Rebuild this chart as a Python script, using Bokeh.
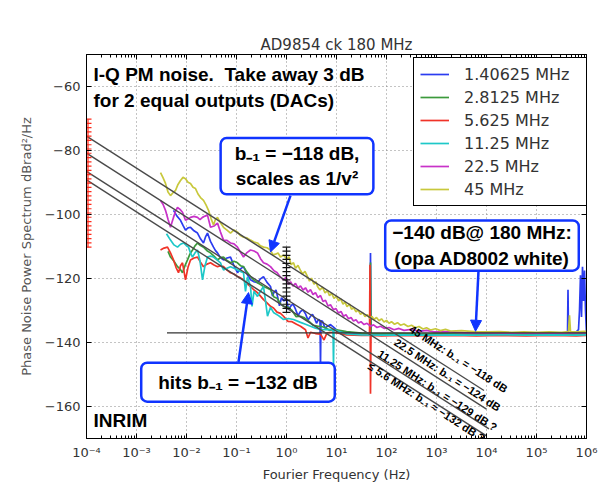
import numpy as np
from bokeh.plotting import figure
from bokeh.models import (LogAxis, LinearAxis, FixedTicker, CustomJSTickFormatter,
                          Label, Arrow, NormalHead, Range1d)
from bokeh.core.properties import value
from bokeh.embed import file_html
from bokeh.resources import INLINE

# ---------------- data ----------------
TITLE = "AD9854 ck 180 MHz"
X_LABEL = "Fourier Frequency (Hz)"
Y_LABEL = "Phase Noise Power Spectrum dBrad²/Hz"

series_names = ["1.40625 MHz", "2.8125 MHz", "5.625 MHz", "11.25 MHz", "22.5 MHz", "45 MHz"]
series_colors = ["#2b3cf0", "#3c9a3c", "#f03328", "#1ec8c8", "#c832c8", "#c8c83c"]

# (log10 f [Hz], dB) pairs
blue_1p40625 = [(-2.26, -98.7), (-2.19, -100.5), (-2.12, -101.8), (-2.07, -103.4), (-2.02, -104.9), (-1.97, -104.2),
                (-1.92, -104.0), (-1.85, -105.1), (-1.78, -105.8), (-1.72, -107.6), (-1.66, -108.9), (-1.62, -107.0),
                (-1.58, -105.8), (-1.52, -108.4), (-1.46, -110.2), (-1.42, -111.3), (-1.38, -112.0), (-1.32, -113.5),
                (-1.26, -114.2), (-1.19, -113.6), (-1.12, -113.3), (-1.05, -116.0), (-0.98, -118.2), (-0.92, -117.0),
                (-0.86, -116.3), (-0.79, -118.6), (-0.72, -120.4), (-0.65, -121.0), (-0.58, -121.3), (-0.52, -120.1),
                (-0.46, -119.4), (-0.39, -121.2), (-0.32, -122.5), (-0.28, -125.5), (-0.25, -124.3), (-0.21, -123.6),
                (-0.18, -125.6), (-0.14, -128.5), (-0.10, -126.0), (-0.05, -127.0), (0.00, -126.4), (0.04, -129.8),
                (0.08, -128.7), (0.13, -127.9), (0.18, -129.6), (0.23, -131.6), (0.28, -130.3), (0.33, -129.8),
                (0.38, -131.0), (0.43, -133.0), (0.48, -131.8), (0.52, -131.2), (0.56, -132.4), (0.60, -134.0),
                (0.64, -132.8), (0.67, -133.1), (0.68, -147.3), (0.69, -133.2), (0.72, -133.4), (0.77, -135.5),
                (0.82, -134.9), (0.88, -134.4), (0.94, -135.2), (1.02, -136.3), (1.10, -136.5), (1.30, -137.0),
                (1.50, -137.2), (1.67, -137.3), (1.68, -112.0), (1.69, -137.3), (1.80, -137.4), (2.00, -137.5),
                (2.30, -137.4), (2.60, -137.6), (3.00, -137.5), (3.50, -137.6), (4.00, -137.5), (4.50, -137.6),
                (5.00, -137.5), (5.40, -137.6), (5.62, -137.5), (5.63, -123.5), (5.64, -137.5), (5.75, -137.4),
                (5.84, -136.0), (5.86, -130.0), (5.88, -119.0), (5.90, -132.0), (5.92, -116.3), (5.94, -127.0),
                (5.96, -117.5), (5.98, -130.0), (6.00, -137.0)]

green_2p8125 = [(-2.37, -111.5), (-2.32, -113.3), (-2.25, -114.6), (-2.18, -116.3), (-2.13, -117.0), (-2.08, -118.2),
                (-2.03, -116.0), (-1.98, -114.2), (-1.93, -112.3), (-1.88, -111.1), (-1.83, -109.8), (-1.78, -108.9),
                (-1.72, -109.7), (-1.66, -110.2), (-1.59, -111.3), (-1.52, -112.0), (-1.45, -113.0), (-1.38, -114.2),
                (-1.32, -113.5), (-1.26, -113.3), (-1.19, -114.4), (-1.12, -115.1), (-1.05, -114.6), (-0.98, -115.1),
                (-0.92, -116.0), (-0.86, -116.3), (-0.79, -118.0), (-0.72, -119.4), (-0.65, -120.5), (-0.58, -121.3),
                (-0.52, -121.9), (-0.46, -122.5), (-0.39, -123.0), (-0.32, -123.5), (-0.25, -125.8), (-0.19, -126.2),
                (-0.12, -127.9), (-0.06, -128.7), (0.02, -128.9), (0.11, -130.0), (0.19, -131.9), (0.28, -131.8),
                (0.36, -132.3), (0.45, -133.4), (0.53, -134.6), (0.62, -134.9), (0.70, -135.0), (0.78, -135.4),
                (0.86, -136.2), (0.94, -135.9), (1.20, -136.6), (1.50, -137.1), (1.67, -137.2), (1.68, -115.0),
                (1.69, -137.2), (1.90, -137.3), (2.20, -137.2), (2.60, -137.4), (3.00, -137.3), (3.50, -137.4),
                (4.00, -137.3), (4.50, -137.4), (5.00, -137.3), (5.50, -137.4), (6.00, -137.3)]

red_5p625 = [(-2.52, -111.1), (-2.45, -110.5), (-2.38, -110.2), (-2.32, -112.0), (-2.26, -114.2), (-2.21, -116.5),
             (-2.16, -118.2), (-2.12, -116.0), (-2.08, -115.1), (-2.05, -117.8), (-2.02, -120.4), (-1.97, -116.5),
             (-1.92, -114.2), (-1.85, -113.6), (-1.78, -113.3), (-1.72, -114.9), (-1.66, -116.3), (-1.59, -115.5),
             (-1.52, -115.1), (-1.45, -115.8), (-1.38, -116.3), (-1.32, -116.0), (-1.26, -116.3), (-1.19, -117.4),
             (-1.12, -118.2), (-1.05, -118.6), (-0.98, -119.4), (-0.92, -119.8), (-0.86, -120.4), (-0.79, -121.6),
             (-0.72, -122.5), (-0.65, -123.6), (-0.58, -124.4), (-0.52, -125.5), (-0.46, -126.6), (-0.39, -127.6),
             (-0.32, -128.7), (-0.26, -129.2), (-0.19, -130.5), (-0.12, -130.9), (-0.06, -131.8), (0.03, -133.4),
             (0.11, -133.5), (0.20, -134.3), (0.28, -134.9), (0.38, -136.0), (0.43, -138.6), (0.48, -136.8),
             (0.58, -137.2), (0.68, -137.4), (0.75, -139.2), (0.81, -137.0), (0.94, -136.8), (1.20, -137.6),
             (1.50, -137.8), (1.66, -137.8), (1.67, -115.7), (1.68, -156.0), (1.69, -137.8), (1.90, -137.9),
             (2.30, -137.8), (2.80, -137.9), (3.30, -137.8), (3.80, -137.9), (4.30, -137.8), (4.80, -137.9),
             (5.30, -137.8), (5.80, -137.9), (6.00, -137.8)]

cyan_11p25 = [(-2.40, -106.0), (-2.32, -108.0), (-2.25, -109.5), (-2.18, -110.2), (-2.12, -109.3), (-2.06, -108.9),
              (-2.01, -109.6), (-1.96, -110.2), (-1.92, -112.0), (-1.88, -113.3), (-1.83, -112.0), (-1.78, -111.1),
              (-1.73, -114.5), (-1.68, -120.4), (-1.63, -116.0), (-1.58, -113.3), (-1.52, -113.0), (-1.46, -113.3),
              (-1.39, -114.2), (-1.32, -115.1), (-1.29, -116.4), (-1.26, -117.3), (-1.19, -116.8), (-1.12, -116.3),
              (-1.05, -116.8), (-0.98, -117.3), (-0.92, -117.8), (-0.86, -118.2), (-0.82, -124.0), (-0.78, -119.5),
              (-0.72, -122.5), (-0.69, -128.7), (-0.65, -124.0), (-0.58, -125.6), (-0.52, -124.0), (-0.46, -122.5),
              (-0.42, -127.0), (-0.38, -131.8), (-0.32, -129.0), (-0.26, -130.6), (-0.16, -131.6), (-0.06, -132.8),
              (0.04, -132.5), (0.14, -132.8), (0.28, -133.7), (0.38, -134.3), (0.48, -134.9), (0.58, -135.5),
              (0.68, -135.9), (0.80, -136.0), (0.93, -135.9), (0.94, -147.3), (0.95, -136.0), (1.20, -137.3),
              (1.50, -137.6), (1.90, -137.7), (2.30, -137.6), (2.80, -137.7), (3.30, -137.6), (3.80, -137.7),
              (4.30, -137.6), (4.80, -137.7), (5.30, -137.6), (5.80, -137.7), (6.00, -137.6)]

magenta_22p5 = [(-2.52, -95.6), (-2.47, -96.8), (-2.42, -98.7), (-2.37, -101.5), (-2.32, -104.0), (-2.29, -102.4),
                (-2.26, -100.9), (-2.22, -99.0), (-2.18, -97.8), (-2.13, -98.4), (-2.08, -99.3), (-2.02, -101.8),
                (-1.97, -101.4), (-1.92, -100.9), (-1.85, -100.6), (-1.78, -100.9), (-1.73, -101.6), (-1.68, -100.9),
                (-1.63, -100.5), (-1.58, -100.2), (-1.52, -104.0), (-1.45, -103.6), (-1.38, -102.7), (-1.32, -105.5),
                (-1.26, -108.0), (-1.19, -108.1), (-1.12, -108.9), (-1.05, -109.2), (-0.98, -110.2), (-0.92, -111.8),
                (-0.86, -113.3), (-0.79, -111.9), (-0.72, -111.1), (-0.65, -111.4), (-0.58, -112.0), (-0.52, -113.8),
                (-0.46, -115.1), (-0.39, -115.5), (-0.32, -116.3), (-0.25, -117.6), (-0.19, -118.1), (-0.12, -119.6),
                (-0.06, -120.4), (-0.01, -119.6), (0.04, -121.8), (0.08, -121.0), (0.13, -122.4), (0.18, -121.5),
                (0.23, -123.0), (0.28, -122.3), (0.33, -123.6), (0.38, -122.9), (0.43, -124.3), (0.48, -123.5),
                (0.53, -125.0), (0.58, -124.4), (0.63, -126.0), (0.68, -125.3), (0.73, -127.2), (0.78, -126.8),
                (0.83, -128.6), (0.88, -128.2), (0.94, -129.8), (0.99, -129.4), (1.04, -130.8), (1.09, -130.3),
                (1.14, -131.8), (1.19, -131.3), (1.24, -132.6), (1.29, -132.2), (1.34, -133.3), (1.39, -132.9),
                (1.44, -133.9), (1.49, -133.5), (1.55, -134.4), (1.61, -134.0), (1.68, -134.9), (1.74, -134.5),
                (1.81, -135.3), (1.88, -134.9), (1.96, -135.6), (2.05, -135.3), (2.15, -136.0), (2.25, -135.6),
                (2.35, -136.2), (2.50, -135.9), (2.65, -136.5), (2.80, -136.2), (2.95, -136.7), (3.20, -136.6),
                (3.60, -137.0), (4.00, -137.0), (4.50, -137.1), (5.00, -137.0), (5.50, -137.1), (6.00, -137.0)]

yellow_45 = [(-2.52, -86.9), (-2.47, -88.5), (-2.42, -90.3), (-2.37, -93.0), (-2.32, -94.1), (-2.27, -93.2),
             (-2.22, -92.5), (-2.17, -90.6), (-2.12, -89.4), (-2.07, -88.4), (-2.02, -88.8), (-1.97, -89.9),
             (-1.92, -90.3), (-1.87, -91.5), (-1.82, -91.9), (-1.77, -93.6), (-1.72, -94.7), (-1.66, -95.6),
             (-1.61, -97.0), (-1.56, -98.7), (-1.51, -101.2), (-1.46, -103.3), (-1.42, -101.5), (-1.38, -100.9),
             (-1.32, -102.6), (-1.26, -104.0), (-1.19, -104.9), (-1.12, -105.8), (-1.05, -104.8), (-0.98, -105.5),
             (-0.92, -106.6), (-0.86, -107.1), (-0.79, -107.3), (-0.72, -108.0), (-0.65, -108.6), (-0.58, -108.9),
             (-0.52, -109.8), (-0.46, -110.2), (-0.39, -110.4), (-0.32, -111.1), (-0.27, -112.6), (-0.22, -112.4),
             (-0.17, -112.0), (-0.12, -113.3), (-0.06, -112.7), (0.01, -114.0), (0.05, -113.2), (0.09, -115.6),
             (0.14, -115.1), (0.18, -116.8), (0.23, -115.9), (0.28, -117.5), (0.32, -118.6), (0.37, -117.8),
             (0.42, -119.4), (0.46, -120.8), (0.50, -119.9), (0.55, -121.8), (0.59, -121.0), (0.62, -122.5),
             (0.67, -123.6), (0.72, -122.7), (0.77, -124.5), (0.82, -123.8), (0.86, -125.4), (0.90, -124.6),
             (0.95, -126.2), (1.00, -125.5), (1.04, -127.0), (1.08, -126.3), (1.13, -128.0), (1.17, -127.4),
             (1.21, -128.8), (1.26, -128.0), (1.30, -129.6), (1.34, -129.1), (1.39, -130.4), (1.43, -129.9),
             (1.48, -131.2), (1.52, -130.6), (1.57, -131.9), (1.62, -131.3), (1.66, -132.4), (1.71, -131.9),
             (1.75, -132.8), (1.80, -132.2), (1.85, -133.2), (1.90, -132.6), (1.95, -133.6), (2.00, -133.1),
             (2.05, -134.0), (2.10, -133.5), (2.16, -134.3), (2.22, -133.8), (2.28, -134.6), (2.35, -134.2),
             (2.43, -135.0), (2.50, -134.6), (2.58, -135.4), (2.65, -135.0), (2.73, -135.8), (2.80, -135.4),
             (2.88, -136.1), (2.98, -135.7), (3.08, -136.3), (3.18, -135.9), (3.28, -136.4), (3.50, -136.3),
             (3.75, -136.6), (4.00, -136.7), (4.25, -136.6), (4.50, -136.8), (4.75, -136.7), (5.00, -136.8),
             (5.25, -136.7), (5.50, -136.8), (5.64, -136.6), (5.66, -131.5), (5.68, -136.6), (5.80, -136.7),
             (5.95, -136.5), (6.00, -136.6)]

all_series = [blue_1p40625, green_2p8125, red_5p625, cyan_11p25, magenta_22p5, yellow_45]

x_major_exp = [-4, -3, -2, -1, 0, 1, 2, 3, 4, 5, 6]
y_major = [-160, -140, -120, -100, -80, -60]

# white-noise floor line
floor_db = -137.0
floor_start_logf = -2.39
floor_end_logf = 6.3

# 1/f reference lines: level at 1 Hz, slope in dB/decade, end point
ref_at_1hz = [-115.5, -120.8, -126.5, -129.2]
ref_slope = -10.0
ref_start_logf = -4.0
ref_end_logf = [3.95, 4.0, 4.05, 4.0]
ref_texts = ["45 MHz: b₋₁ = −118 dB", "22.5 MHz: b₋₁ = −124 dB",
             "11.25 MHz: b₋₁ = −129 dB ?", "≤ 5.6 MHz: b₋₁ ≈ −132 dB ?"]
ref_text_logf = [3.44, 3.22, 3.02, 2.80]
ref_text_db = [-145.1, -150.1, -155.0, -158.6]

# error-bar rulers: (log f, top dB, bottom dB, number of ticks)
red_ruler = (-3.97, -70.2, -110.2, 31)
black_ruler = (0.0, -110.2, -130.6, 17)

# boxed call-outs
box_texts = ["b₋₁ = −118 dB,\nscales as 1/v²", "−140 dB@ 180 MHz:\n(opa AD8002 white)", "hits b₋₁ = −132 dB"]
box_logf = [0.21, 3.91, -0.97]
box_db = [-84.9, -109.7, -152.4]
arrow_from = [(0.08, -94.1), (3.84, -117.6), (-0.96, -146.1)]
arrow_to = [(-0.32, -111.7), (3.78, -136.5), (-0.76, -124.4)]

note_text = "I-Q PM noise.\u00a0 Take away 3 dB\nfor 2 equal outputs (DACs)"
note_pos = (-3.86, -52.9)
inrim_text = "INRIM"
inrim_pos = (-3.86, -164.3)

# ---------------- figure ----------------
BLUE = "#1034ff"
TXT = "#333333"

p = figure(width=605, height=489, x_axis_type="log",
           x_range=Range1d(1e-4, 1e6), y_range=Range1d(-170, -50),
           output_backend="svg", toolbar_location=None,
           min_border_left=86, min_border_right=19, min_border_top=54, min_border_bottom=51,
           background_fill_color="white", border_fill_color="white")
p.outline_line_color = "black"
p.outline_line_alpha = 1.0

p.title.text = TITLE
p.title.align = "center"
p.title.text_font = "DejaVu Sans"
p.title.text_font_style = "normal"
p.title.text_font_size = "15px"
p.title.text_color = TXT
p.title.standoff = 2

xticker = FixedTicker(ticks=[10.0 ** e for e in x_major_exp],
                      minor_ticks=[m * 10.0 ** e for e in x_major_exp[:-1] for m in range(2, 10)])
yticker = FixedTicker(ticks=y_major, minor_ticks=[])

xfmt = CustomJSTickFormatter(code="""
const e = Math.round(Math.log10(tick));
const sup = {'-':'\u207b','0':'\u2070','1':'\u00b9','2':'\u00b2','3':'\u00b3','4':'\u2074','5':'\u2075','6':'\u2076','7':'\u2077','8':'\u2078','9':'\u2079'};
return '10' + String(e).split('').map(c => sup[c]).join('');
""")
yfmt = CustomJSTickFormatter(code="return (tick < 0 ? '\u2212' : '') + Math.abs(tick);")
nofmt = CustomJSTickFormatter(code="return '';")


def style_axis(ax):
    ax.major_tick_in = 5
    ax.major_tick_out = 0
    ax.minor_tick_in = 3
    ax.minor_tick_out = 0
    ax.axis_line_color = "black"
    ax.major_tick_line_color = "black"
    ax.minor_tick_line_color = "black"
    ax.major_label_text_font = "DejaVu Sans"
    ax.major_label_text_font_size = "13px"
    ax.major_label_text_color = TXT
    ax.axis_label_text_font = "DejaVu Sans"
    ax.axis_label_text_font_style = "normal"
    ax.axis_label_text_font_size = "13px"
    ax.axis_label_text_color = TXT


xa = p.xaxis[0]
xa.ticker = xticker
xa.formatter = xfmt
xa.axis_label = X_LABEL
style_axis(xa)
xa.major_label_standoff = 6
xa.axis_label_standoff = 4

ya = p.yaxis[0]
ya.ticker = yticker
ya.formatter = yfmt
ya.axis_label = Y_LABEL
style_axis(ya)
ya.major_label_standoff = 6
ya.axis_label_standoff = 8
ya.axis_label_text_color = "#555555"

top = LogAxis(ticker=xticker, formatter=nofmt)
style_axis(top)
top.major_label_text_font_size = "0px"
top.major_label_standoff = 0
p.add_layout(top, "above")
right = LinearAxis(ticker=yticker, formatter=nofmt)
style_axis(right)
right.major_label_text_font_size = "0px"
right.major_label_standoff = 0
p.add_layout(right, "right")

p.xgrid.ticker = xticker
p.ygrid.ticker = yticker
for g in (p.xgrid[0], p.ygrid[0]):
    g.grid_line_color = "#888888"
    g.grid_line_dash = "1 3"
    g.grid_line_width = 1

# traces
for name, col, pts in zip(series_names, series_colors, all_series):
    xs = [10.0 ** a for a, _ in pts]
    ys = [b for _, b in pts]
    p.line(xs, ys, line_color=col, line_width=1.7, legend_label=name)

# floor line
p.line([10.0 ** floor_start_logf, 10.0 ** floor_end_logf], [floor_db, floor_db],
       line_color="#333333", line_width=1.2)

# 1/f reference lines
for b, e in zip(ref_at_1hz, ref_end_logf):
    x0, x1 = ref_start_logf, e
    p.line([10.0 ** x0, 10.0 ** x1], [b + ref_slope * x0, b + ref_slope * x1],
           line_color="#4a4a4a", line_width=1.4)

p.text(x=[10.0 ** v for v in ref_text_logf], y=ref_text_db, text=ref_texts,
       angle=-0.574, text_font=value("Liberation Sans"), text_font_style="bold",
       text_font_size=value("11px"), text_align="center", text_baseline="middle",
       text_color="black")

# rulers
for (lf, top_db, bot_db, n), col, sz in ((red_ruler, "#ff2a1a", 7), (black_ruler, "#111111", 8)):
    xr = 10.0 ** lf
    p.segment(x0=[xr], y0=[top_db], x1=[xr], y1=[bot_db], line_color=col, line_width=1.2)
    ticks = np.linspace(top_db, bot_db, n)
    p.scatter(x=[xr] * n, y=ticks, marker="dash", size=sz, line_color=col, line_width=1.2)

# arrows
for (xs0, ys0), (xs1, ys1) in zip(arrow_from, arrow_to):
    p.add_layout(Arrow(end=NormalHead(size=11, fill_color=BLUE, line_color=BLUE),
                       x_start=10.0 ** xs0, y_start=ys0, x_end=10.0 ** xs1, y_end=ys1,
                       line_color=BLUE, line_width=2.5))

# boxed labels; padding given as (horizontal, vertical)
box_pads = [(14, 5), (7, 2), (17, 9)]
for t, lf, db, pad in zip(box_texts, box_logf, box_db, box_pads):
    p.add_layout(Label(x=10.0 ** lf, y=db, text=t, text_align="center", text_baseline="middle",
                       text_font="Liberation Sans", text_font_style="bold", text_font_size="19px",
                       text_color="black", text_line_height=1.2,
                       background_fill_color="white", background_fill_alpha=1.0,
                       border_line_color=BLUE, border_line_width=2.5,
                       padding=pad, border_radius=6))

p.add_layout(Label(x=10.0 ** note_pos[0], y=note_pos[1], text=note_text, text_align="left",
                   text_baseline="top", text_font="Liberation Sans", text_font_style="bold",
                   text_font_size="19px", text_color="black", text_line_height=1.25))
p.add_layout(Label(x=10.0 ** inrim_pos[0], y=inrim_pos[1], text=inrim_text, text_align="left",
                   text_baseline="middle", text_font="Liberation Sans", text_font_style="bold",
                   text_font_size="19px", text_color="black"))

# legend
leg = p.legend[0]
leg.location = (327, 232)
leg.margin = 0
leg.padding = 6
leg.spacing = 3
leg.glyph_width = 29
leg.glyph_height = 20
leg.label_height = 20
leg.label_width = 116
leg.label_standoff = 15
leg.label_text_font = "DejaVu Sans"
leg.label_text_font_size = "16px"
leg.label_text_color = TXT
leg.border_line_color = "black"
leg.border_line_width = 1
leg.border_line_alpha = 1.0
leg.background_fill_color = "white"
leg.background_fill_alpha = 1.0

open("out.html", "w").write(file_html(p, INLINE))
